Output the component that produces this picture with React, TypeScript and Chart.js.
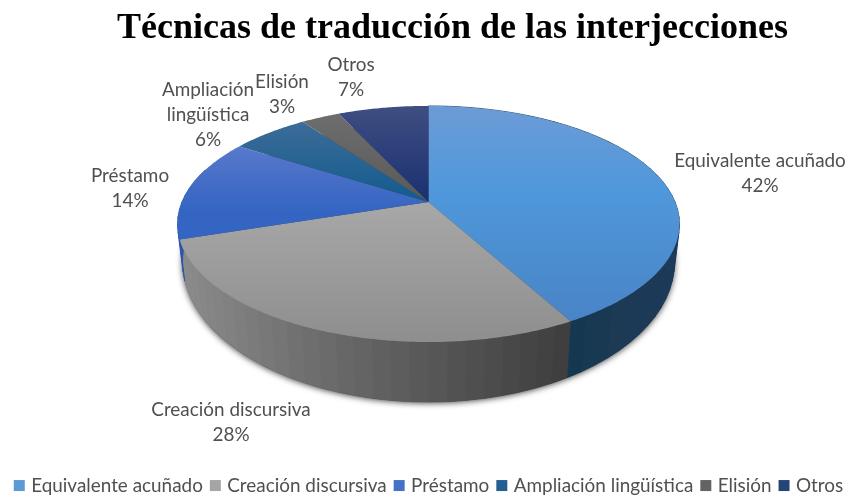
import React, { useEffect, useRef } from "react";
import { Chart, registerables } from "chart.js";

Chart.register(...registerables);

const categories = ["Equivalente acuñado", "Creación discursiva", "Préstamo", "Ampliación lingüística", "Elisión", "Otros"];
const values = [42, 28, 14, 6, 3, 7];
const colors = ["#5B9BD5", "#A5A5A5", "#4472C4", "#255E91", "#636363", "#264478"];
const labelLines = [["Equivalente acuñado"], ["Creación discursiva"], ["Préstamo"], ["Ampliación", "lingüística"], ["Elisión"], ["Otros"]];
const labelAnchors = [[760, 161], [231, 410], [130, 176], [208, 90], [282, 82], [351, 65]];
const title = "Técnicas de traducción de las interjecciones";

// Perspective projection of the pie's top and base planes
const CX = 428.5;
const topPlane = { a: 246.6, b: 114, k: 0.186, y0: 202 };
const basePlane = { a: 242, b: 135.5, k: 0.18, y0: 236.8 };
const project = (p: any, t: number) => {
  const c = Math.cos(t), s = Math.sin(t), d = 1 - p.k * s;
  return [CX + (p.a * c) / d, p.y0 + (p.b * s) / d];
};

// top-face shading of each slice: [position between y=106 and y=342, colour]
const faceStops: any[] = [
  [[0, "#6c9bd6"], [0.35, "#5098dc"], [0.7, "#4a8ccd"], [1, "#4a80c5"]],
  [[0.4, "#a8a8a8"], [1, "#8e8e8e"]],
  [[0.1, "#607fd0"], [0.28, "#4a70c8"], [0.45, "#3465c2"]],
  [[0.05, "#3f6d98"], [0.42, "#105a8e"]],
  [[0.03, "#6e6e6e"], [0.42, "#585858"]],
  [[0, "#3f4e82"], [0.42, "#182f70"]],
];

// wall colour ramps by screen x, one per slice
const wallRamps: any = {
  0: [[566, [18, 56, 79]], [620, [28, 58, 84]], [680, [28, 58, 90]]],
  1: [[180, [140, 140, 140]], [300, [112, 112, 112]], [410, [91, 91, 91]], [569, [62, 62, 62]]],
  2: [[170, [44, 85, 168]], [190, [44, 85, 168]]],
};
const ramp = (r: any[], x: number) => {
  if (x <= r[0][0]) return r[0][1];
  for (let i = 1; i < r.length; i++) {
    if (x <= r[i][0]) {
      const f = (x - r[i - 1][0]) / (r[i][0] - r[i - 1][0]);
      return r[i - 1][1].map((v: number, j: number) => v + (r[i][1][j] - v) * f);
    }
  }
  return r[r.length - 1][1];
};

const pie3d = {
  id: "pie3d",
  beforeDraw(chart: any) {
    if (!chart.$moved) {
      chart.$moved = true;
      chart.titleBlock.left += 28.5;
      chart.titleBlock.right += 28.5;
      chart.legend.top += 9;
      chart.legend.bottom += 9;
      chart.legend.left += 6;
      chart.legend.right += 6;
    }
  },
  beforeDatasetsDraw(chart: any) {
    const ctx = chart.ctx;
    const arcs = chart.getDatasetMeta(0).data;
    const STEP = (3.6 * Math.PI) / 180;

    // soft shadow beneath the base
    ctx.save();
    ctx.shadowColor = "rgba(0,0,0,0.75)";
    ctx.shadowBlur = 6;
    ctx.shadowOffsetY = 1;
    ctx.fillStyle = "#444";
    ctx.beginPath();
    for (let t = 0; t < Math.PI * 2; t += 0.02) {
      const [x, y] = project(basePlane, t);
      ctx.lineTo(x, y);
    }
    ctx.closePath();
    ctx.fill();
    ctx.restore();

    // side walls
    arcs.forEach((arc: any, i: number) => {
      const r = wallRamps[i];
      if (!r) return;
      const s = arc.startAngle, e = Math.min(arc.endAngle, Math.PI + 0.3);
      for (let t = s; t < e; t += STEP) {
        const t2 = Math.min(t + STEP, e);
        const a = project(topPlane, t), b = project(topPlane, t2), c = project(basePlane, t2), d = project(basePlane, t);
        const col = ramp(r, (a[0] + b[0]) / 2).map((v: number) => Math.round(v));
        const css = `rgb(${col[0]},${col[1]},${col[2]})`;
        ctx.fillStyle = css;
        ctx.strokeStyle = css;
        ctx.lineWidth = 0.7;
        ctx.beginPath();
        ctx.moveTo(a[0], a[1]);
        ctx.lineTo(b[0], b[1]);
        ctx.lineTo(c[0], c[1]);
        ctx.lineTo(d[0], d[1]);
        ctx.closePath();
        ctx.fill();
        ctx.stroke();
      }
    });

    // top faces
    arcs.forEach((arc: any, i: number) => {
      ctx.beginPath();
      ctx.moveTo(CX, topPlane.y0);
      const n = Math.ceil((arc.endAngle - arc.startAngle) / 0.01);
      for (let j = 0; j <= n; j++) {
        const [x, y] = project(topPlane, arc.startAngle + ((arc.endAngle - arc.startAngle) * j) / n);
        ctx.lineTo(x, y);
      }
      ctx.closePath();
      const g = ctx.createLinearGradient(0, 106, 0, 342);
      faceStops[i].forEach(([p, c]: any) => g.addColorStop(p, c));
      ctx.fillStyle = g;
      ctx.fill();
    });
    return false;
  },
  afterDraw(chart: any) {
    const ctx = chart.ctx;
    ctx.save();
    ctx.font = "18.9px Lato";
    ctx.fillStyle = "#505050";
    ctx.textAlign = "center";
    ctx.textBaseline = "middle";
    labelLines.forEach((lines, i) => {
      const [x, y] = labelAnchors[i];
      [...lines, `${values[i]}%`].forEach((line, j) => ctx.fillText(line, x, y + j * 25));
    });
    ctx.restore();
  },
};

export default function App() {
  const ref = useRef<HTMLCanvasElement>(null);
  useEffect(() => {
    const chart = new Chart(ref.current!, {
      type: "pie",
      data: { labels: categories, datasets: [{ data: values, backgroundColor: colors, borderWidth: 0 }] },
      plugins: [pie3d],
      options: {
        responsive: false,
        animation: false,
        plugins: {
          tooltip: { enabled: false },
          title: {
            display: true,
            text: title,
            color: "#000000",
            font: { family: "'Liberation Serif'", size: 36, weight: "bold" },
            padding: { top: 7, bottom: 10 },
          },
          legend: {
            position: "bottom",
            labels: {
              boxWidth: 5,
              boxHeight: 5,
              padding: 10,
              color: "#505050",
              font: { family: "Lato", size: 18.9 },
              generateLabels: (c: any) =>
                (Chart as any).overrides.pie.plugins.legend.labels
                  .generateLabels(c)
                  .map((it: any) => ({ ...it, lineWidth: 6, strokeStyle: it.fillStyle })),
            },
          },
        },
      },
    } as any);
    return () => chart.destroy();
  }, []);
  return (
    <div style={{ position: "fixed", left: 0, top: 0, width: 848, height: 496, background: "#fff" }}>
      <canvas ref={ref} width={848} height={496} style={{ display: "block" }} />
    </div>
  );
}
